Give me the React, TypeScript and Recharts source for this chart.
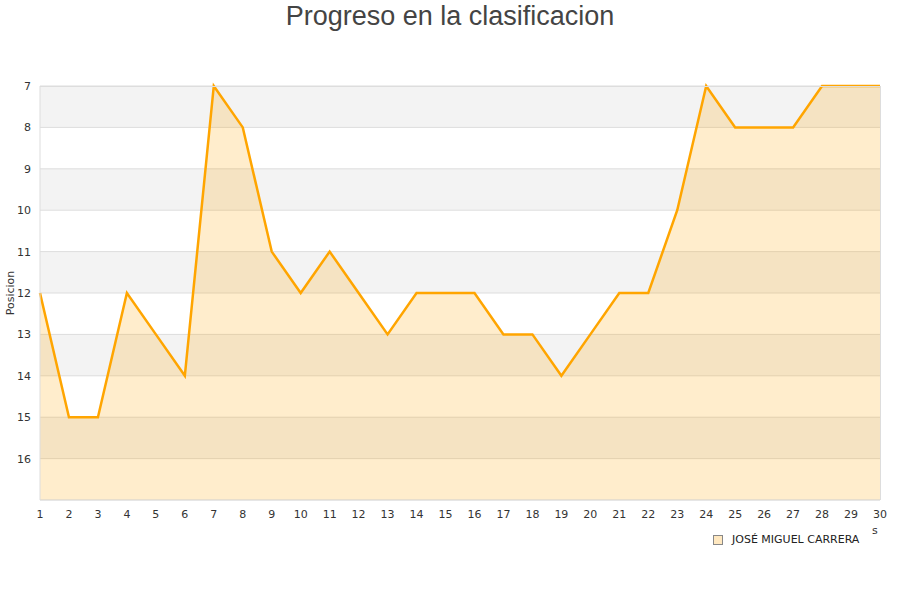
import {
	Area,
	AreaChart,
	CartesianGrid,
	XAxis,
	YAxis
} from "recharts"


// Jornadas and position for each one
const rounds = [1, 2, 3, 4, 5, 6, 7, 8, 9, 10, 11, 12, 13, 14, 15, 16, 17, 18, 19, 20, 21, 22, 23, 24, 25, 26, 27, 28, 29, 30]
const positions = [12, 15, 15, 12, 13, 14, 7, 8, 11, 12, 11, 12, 13, 12, 12, 12, 13, 13, 14, 13, 12, 12, 10, 7, 8, 8, 8, 7, 7, 7]

const yTicks = [7, 8, 9, 10, 11, 12, 13, 14, 15, 16]

const teamName = "JOSÉ MIGUEL CARRERA"
const chartTitle = "Progreso en la clasificacion"
const yLabel = "Posicion"

const data = rounds.map((round, i) => ({
	round,
	position: positions[i]
}))

const tickStyle = { fontFamily: "DejaVu Sans", fontSize: 11, fill: "#333" }


export default function App() {

	return (
		<div style={{ position: "absolute", left: 0, top: 0, width: 900, height: 600, background: "#fff" }}>

			<div style={{
				position: "absolute", left: 0, top: 0, width: 900, textAlign: "center",
				fontFamily: "Liberation Sans", fontSize: 27, color: "#444", lineHeight: "32px"
			}}>
				{chartTitle}
			</div>

			<AreaChart
				width={900}
				height={600}
				data={data}
				margin={{ top: 86, right: 20, bottom: 70, left: 0 }}
			>

				<CartesianGrid
					vertical={false}
					stroke="#dddddd"
					horizontalFill={["#f3f3f3", "#ffffff"]}
					fillOpacity={1}
				/>

				<XAxis
					dataKey="round"
					type="number"
					domain={[1, 30]}
					ticks={rounds}
					interval={0}
					tick={tickStyle}
					tickLine={false}
					axisLine={{ stroke: "#dddddd" }}
					tickMargin={4}
					height={30}
				/>

				<YAxis
					type="number"
					domain={[7, 17]}
					reversed
					ticks={yTicks}
					interval={0}
					tick={tickStyle}
					tickLine={false}
					axisLine={{ stroke: "#dddddd" }}
					tickMargin={3}
					width={40}
					label={{
						value: yLabel, angle: -90, position: "insideLeft", offset: 10,
						style: { fontFamily: "DejaVu Sans", fontSize: 11, fill: "#333", textAnchor: "middle" }
					}}
				/>

				<Area
					type="linear"
					dataKey="position"
					stroke="#ffa500"
					strokeWidth={2.5}
					fill="#ffa500"
					fillOpacity={0.2}
					baseValue={17}
					dot={false}
					activeDot={false}
					isAnimationActive={false}
				/>

			</AreaChart>

			{/* plot frame top and right */}
			<div style={{ position: "absolute", left: 40, top: 86, width: 841, height: 414, borderTop: "1px solid #dddddd", borderRight: "1px solid #dddddd", boxSizing: "border-box", pointerEvents: "none" }} />

			<div style={{ position: "absolute", left: 872, top: 524, fontFamily: "DejaVu Sans", fontSize: 11, color: "#333" }}>s</div>

			<div style={{ position: "absolute", left: 713, top: 533, display: "flex", alignItems: "center", fontFamily: "DejaVu Sans", fontSize: 11, color: "#222" }}>
				<span style={{ display: "inline-block", width: 8, height: 8, background: "#ffe8c0", border: "1px solid #888", marginRight: 9 }} />
				{teamName}
			</div>

		</div>
	)
}
